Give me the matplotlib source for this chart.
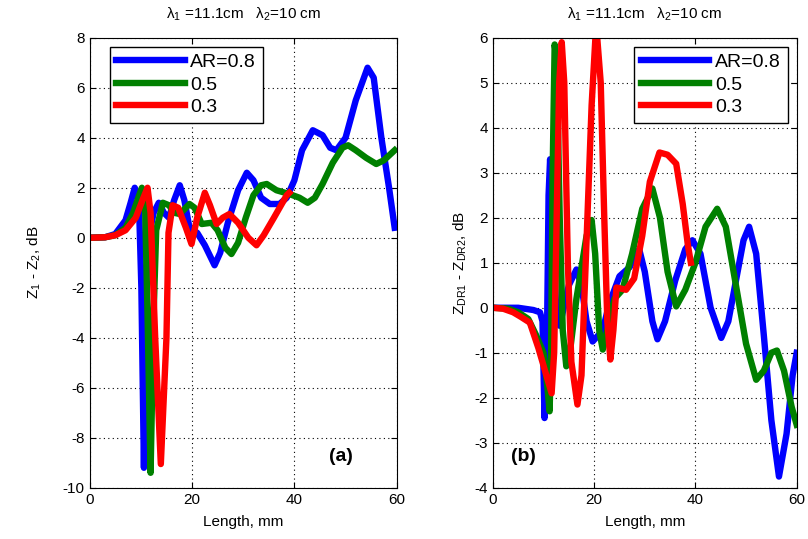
import numpy as np
import matplotlib.pyplot as plt

plt.rcParams['font.family'] = ['Liberation Sans', 'DejaVu Sans']
plt.rcParams['mathtext.fontset'] = 'custom'
plt.rcParams['mathtext.rm'] = 'Liberation Sans'
plt.rcParams['mathtext.it'] = 'Liberation Sans'
plt.rcParams['axes.unicode_minus'] = False

# --- panel (a): Z1 - Z2 ---
a_blue_x = [0, 3, 5, 7, 8, 8.8, 9.6, 10.1, 10.6, 11.0, 11.5, 12.5, 13.5, 14.5, 15.5, 16.5, 17.6, 18.5,
            19.5, 21, 22.5, 24.4, 25.5, 27, 29, 30.7, 32, 33.5, 35.2, 37.1, 38.5, 40, 41.5, 43.6,
            45.5, 47, 48.2, 50, 52, 54.3, 55.5, 57, 58.5, 59.6]
a_blue_y = [0, 0.02, 0.15, 0.7, 1.4, 2.0, 1.6, -2, -9.2, -2, 0.0, 1.0, 1.4, 1.0, 0.8, 1.5, 2.1, 1.5,
            0.4, 0.2, -0.3, -1.1, -0.6, 0.6, 1.9, 2.6, 2.3, 1.6, 1.35, 1.35, 1.6, 2.3, 3.5, 4.3,
            4.1, 3.6, 3.5, 4.0, 5.5, 6.8, 6.4, 4.0, 2.0, 0.4]

a_green_x = [0, 3, 5, 7, 8.5, 9.5, 10.2, 10.8, 11.3, 11.9, 12.5, 13.0, 14.3, 15.5, 16.5, 17.6, 19.5,
             20.5, 21.9, 23.8, 25, 26.5, 27.7, 29, 30.5, 32, 33.5, 34.6, 36.5, 39, 41, 42.6, 44,
             45.5, 47.5, 49.4, 50.5, 52, 54, 56, 57.5, 59.6]
a_green_y = [0, 0.02, 0.1, 0.4, 1.0, 1.6, 2.0, 1.5, -3, -9.4, -3, 0.3, 1.4, 1.3, 1.0, 0.95, 1.35,
             1.2, 0.55, 0.6, 0.3, -0.4, -0.65, -0.2, 0.8, 1.7, 2.1, 2.15, 1.9, 1.75, 1.6, 1.4, 1.6,
             2.15, 3.0, 3.6, 3.7, 3.5, 3.2, 2.95, 3.1, 3.5]

a_red_x = [0, 3, 5, 7, 9, 10.5, 11.3, 11.9, 12.8, 13.9, 15.0, 15.4, 16.2, 17.3, 18.8, 19.9,
           21, 22.5, 23.5, 24.8, 26, 27.3, 29, 31, 32.6, 34, 36, 38.5, 39]
a_red_y = [0, 0.02, 0.1, 0.3, 0.8, 1.6, 2.0, 1.0, -4, -9.05, -4, 0.2, 1.3, 1.2, 0.4, -0.25,
           0.8, 1.8, 1.3, 0.55, 0.8, 0.95, 0.6, 0.0, -0.3, 0.1, 0.8, 1.7, 1.8]

# --- panel (b): ZDR1 - ZDR2 ---
b_blue_x = [0, 5, 8, 9.3, 9.8, 10.2, 10.6, 11.0, 11.3, 11.7, 12.5, 13.2, 14, 15, 16.5, 17.5, 18.5,
            19.7, 21.7, 23, 25, 27, 28.9, 30, 31.5, 32.5, 34, 36, 38, 39.4, 41, 43, 45.1, 46.5, 48,
            49.5, 50.6, 52, 53.5, 55, 56.5, 58, 59.2, 60]
b_blue_y = [0, 0, -0.05, -0.1, -0.3, -2.45, -1.5, 2.5, 3.3, 2.0, 0.0, -0.4, 0.0, 0.5, 0.85, 0.5, -0.3,
            -0.75, -0.5, 0.1, 0.7, 0.9, 1.3, 0.8, -0.3, -0.7, -0.3, 0.6, 1.3, 1.5, 1.2, 0.0, -0.67, -0.3, 0.6,
            1.5, 1.8, 1.2, -0.6, -2.5, -3.75, -2.8, -1.5, -1.0]

b_green_x = [0, 3, 5, 7, 8.5, 10, 10.8, 11.2, 11.5, 11.8, 12.2, 12.6, 13.2, 13.8, 14.5, 15.2, 16.5,
             18.5, 19.5, 20.2, 21, 21.7, 23, 24, 25.6, 27.5, 29.5, 31.5, 33, 34.5, 36.2, 38, 40, 42,
             44.3, 46, 48, 50, 52, 53.5, 55, 56.1, 57.5, 59, 60]
b_green_y = [0, -0.02, -0.1, -0.25, -0.6, -1.0, -1.8, -2.3, -1.0, 3, 5.85, 5.5, 2, -0.5, -1.3, -1.0, 0.2,
             1.6, 1.95, 1.2, -0.5, -0.93, -0.3, 0.2, 0.4, 1.2, 2.2, 2.65, 2.0, 0.8, 0.03, 0.4, 1.0, 1.8,
             2.2, 1.8, 0.5, -0.8, -1.6, -1.4, -1.0, -0.95, -1.4, -2.2, -2.6]

b_red_x = [0, 2, 4, 5.5, 7.3, 9, 10.3, 11.6, 12.1, 12.6, 13.1, 13.6, 14.1, 14.8, 15.5, 16.7, 17.5,
           18.5, 19.5, 20.4, 21.3, 22, 22.6, 23.2, 23.8, 24.4, 26.3, 27.9, 29.5, 31, 32.9, 34.5,
           36.2, 37.5, 38.5, 39.1]
b_red_y = [0, -0.02, -0.1, -0.2, -0.33, -0.9, -1.4, -1.9, -1.0, 2.0, 5.0, 5.9, 5.0, 1.0, -1.2, -2.15, -1.5,
           1.5, 4.5, 6.3, 5.0, 2.0, -0.3, -1.15, -0.5, 0.45, 0.4, 0.65, 1.6, 2.8, 3.45, 3.4,
           3.2, 2.3, 1.4, 1.0]

labels = ['AR=0.8', '0.5', '0.3']
colors = ['#0000ff', '#008000', '#ff0000']
title = r'$\lambda_1$ =11.1cm   $\lambda_2$=10 cm'

fig = plt.figure(figsize=(8.08, 5.39), dpi=100)
ax1 = fig.add_axes([0.111, 0.095, 0.380, 0.835])
ax2 = fig.add_axes([0.610, 0.095, 0.376, 0.835])

panels = [
    (ax1, [(a_blue_x, a_blue_y), (a_green_x, a_green_y), (a_red_x, a_red_y)]),
    (ax2, [(b_blue_x, b_blue_y), (b_green_x, b_green_y), (b_red_x, b_red_y)]),
]
for ax, series in panels:
    for (x, y), c, lab in zip(series, colors, labels):
        ax.plot(x, y, color=c, lw=4.6, label=lab, solid_joinstyle='round')
    ax.set_xlim(0, 60)
    ax.set_xticks([0, 20, 40, 60])
    ax.grid(True, color='k', linestyle=(0, (1, 3)), lw=0.8)
    ax.tick_params(direction='in', labelsize=11, length=4, top=True, right=True)
    ax.set_xlabel('Length, mm', fontsize=11, labelpad=6)
    ax.set_title(title, fontsize=11, pad=14)

leg_kw = dict(fontsize=14, handlelength=3.5, fancybox=False, edgecolor='k', framealpha=1,
              borderpad=0.35, labelspacing=0.25, handletextpad=0.3, borderaxespad=0)

ax1.set_ylim(-10, 8)
ax1.set_yticks(np.arange(-10, 9, 2))
ax1.set_ylabel(r'Z$_1$ - Z$_2$, dB', fontsize=11, labelpad=14)
ax1.legend(loc='upper left', bbox_to_anchor=(0.065, 0.98), **leg_kw)
ax1.text(0.78, 0.06, '(a)', transform=ax1.transAxes, fontsize=14, fontweight='bold')

ax2.set_ylim(-4, 6)
ax2.set_yticks(np.arange(-4, 7, 1))
ax2.set_ylabel(r'Z$_{\rm DR1}$ - Z$_{\rm DR2}$, dB', fontsize=11, labelpad=4)
ax2.legend(loc='upper right', bbox_to_anchor=(0.97, 0.98), **leg_kw)
ax2.text(0.06, 0.06, '(b)', transform=ax2.transAxes, fontsize=14, fontweight='bold')

fig.savefig('out.png', dpi=100)
